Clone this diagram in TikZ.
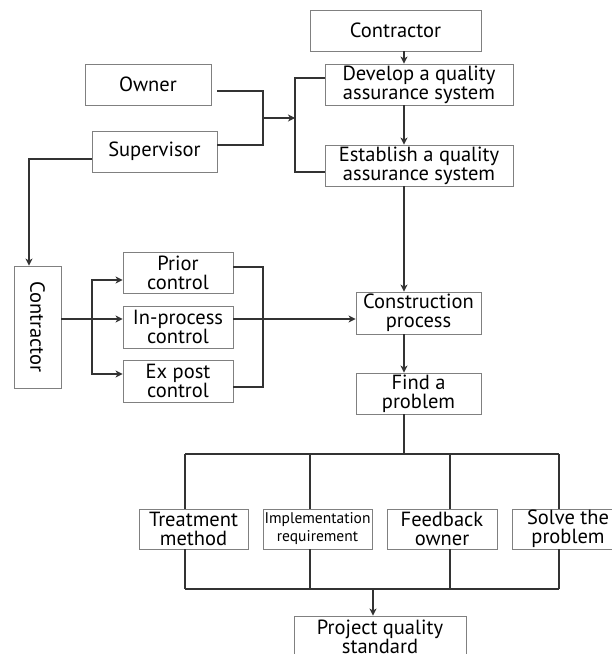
\documentclass[tikz,border=0pt]{standalone}
\usepackage{fontspec}
\setmainfont{PT Sans}
\usetikzlibrary{arrows.meta}
\begin{document}
\begin{tikzpicture}[x=1pt,y=-1pt,
  box/.style={draw=black!50,line width=0.9pt,fill=white,inner sep=0pt,align=center,
    font=\fontsize{20.5}{19}\selectfont},
  ln/.style={draw=black!80,line width=1.1pt},
  arr/.style={ln,-{Stealth[length=7pt,width=7pt,inset=2pt]}}]
\useasboundingbox (0,0) rectangle (612,654);
% nodes
\node[box,minimum width=171pt,minimum height=41pt] (ctop) at (395.5,30.5) {Contractor};
\node[box,minimum width=188pt,minimum height=41pt] (dev) at (419,84.5) {Develop a quality\\assurance system};
\node[box,minimum width=188pt,minimum height=41pt] (est) at (419,165.5) {Establish a quality\\assurance system};
\node[box,minimum width=126pt,minimum height=41pt] (owner) at (148,84.5) {Owner};
\node[box,minimum width=125pt,minimum height=41pt] (sup) at (154.5,151.5) {Supervisor};
\node[box,minimum width=47pt,minimum height=122pt] (cleft) at (37.5,327) {};
\node[font=\fontsize{20.5}{19}\selectfont,rotate=-90] (cleftt) at (cleft.center) {Contractor};
\node[box,minimum width=110pt,minimum height=41pt] (prior) at (178,272.5) {Prior\\control};
\node[box,minimum width=110pt,minimum height=42pt] (inproc) at (178,327) {In-process\\control};
\node[box,minimum width=110pt,minimum height=42pt] (expost) at (178,381) {Ex post\\control};
\node[box,minimum width=125pt,minimum height=42pt] (constr) at (418.5,313) {Construction\\process};
\node[box,minimum width=125pt,minimum height=41pt] (find) at (418.5,393.5) {Find a\\problem};
\node[box,minimum width=109pt,minimum height=40pt] (treat) at (193.5,529) {Treatment\\method};
\node[box,minimum width=109pt,minimum height=40pt,font=\fontsize{15.5}{18}\selectfont] (impl) at (317.5,529) {Implementation\\requirement};
\node[box,minimum width=110pt,minimum height=40pt] (feed) at (442,529) {Feedback\\owner};
\node[box,minimum width=112pt,minimum height=40pt] (solve) at (568,529) {Solve the\\problem};
\node[box,minimum width=172pt,minimum height=41pt] (proj) at (380,636.5) {Project quality\\standard};
% coordinates
\coordinate (sp) at (404,0);
\coordinate (j1) at (263,91);
\coordinate (j2) at (263,145);
\coordinate (jm) at (263,118);
\coordinate (br) at (295,118);
\coordinate (b1) at (295,78);
\coordinate (b2) at (295,172);
\coordinate (s1) at (29,159);
\coordinate (c1) at (92,319);
\coordinate (c2) at (92,280);
\coordinate (c3) at (92,374);
\coordinate (r1) at (263,267);
\coordinate (r2) at (263,387);
\coordinate (xa) at (185,454);
\coordinate (xb) at (310,454);
\coordinate (xc) at (450,454);
\coordinate (xd) at (559,454);
\coordinate (ya) at (185,589);
\coordinate (yd) at (559,589);
\coordinate (ym) at (373,589);
% connectors
\draw[arr] (ctop.south -| sp) -- (dev.north -| sp);
\draw[arr] (dev.south -| sp) -- (est.north -| sp);
\draw[arr] (est.south -| sp) -- (constr.north -| sp);
\draw[arr] (constr.south -| sp) -- (find.north -| sp);
\draw[ln] (owner.east |- j1) ++(6,0) -- (j1) -- (j2) -- (sup.east |- j2);
\draw[arr] (jm) -- (br);
\draw[ln] (dev.west |- b1) -- (b1) -- (b2) -- (est.west |- b2);
\draw[arr] (sup.west |- s1) -- (s1) -- (cleft.north -| s1);
\draw[arr] (cleft.east |- c1) -- (inproc.west |- c1);
\draw[arr] (c1) -- (c2) -- (prior.west |- c2);
\draw[arr] (c1) -- (c3) -- (expost.west |- c3);
\draw[ln] (prior.east |- r1) -- (r1) -- (r2) -- (expost.east |- r2);
\draw[arr] (inproc.east |- c1) -- (constr.west |- c1);
\draw[ln] (find.south -| sp) -- (sp |- xa);
\draw[ln] (xa) -- (xd);
\draw[ln] (xa) -- (xa |- treat.north);
\draw[ln] (xb) -- (xb |- impl.north);
\draw[ln] (xc) -- (xc |- feed.north);
\draw[ln] (xd) -- (xd |- solve.north);
\draw[ln] (xa |- treat.south) -- (ya);
\draw[ln] (xb |- impl.south) -- (xb |- ya);
\draw[ln] (xc |- feed.south) -- (xc |- ya);
\draw[ln] (xd |- solve.south) -- (yd);
\draw[ln] (ya) -- (yd);
\draw[arr] (ym) -- (ym |- proj.north);
\end{tikzpicture}
\end{document}
